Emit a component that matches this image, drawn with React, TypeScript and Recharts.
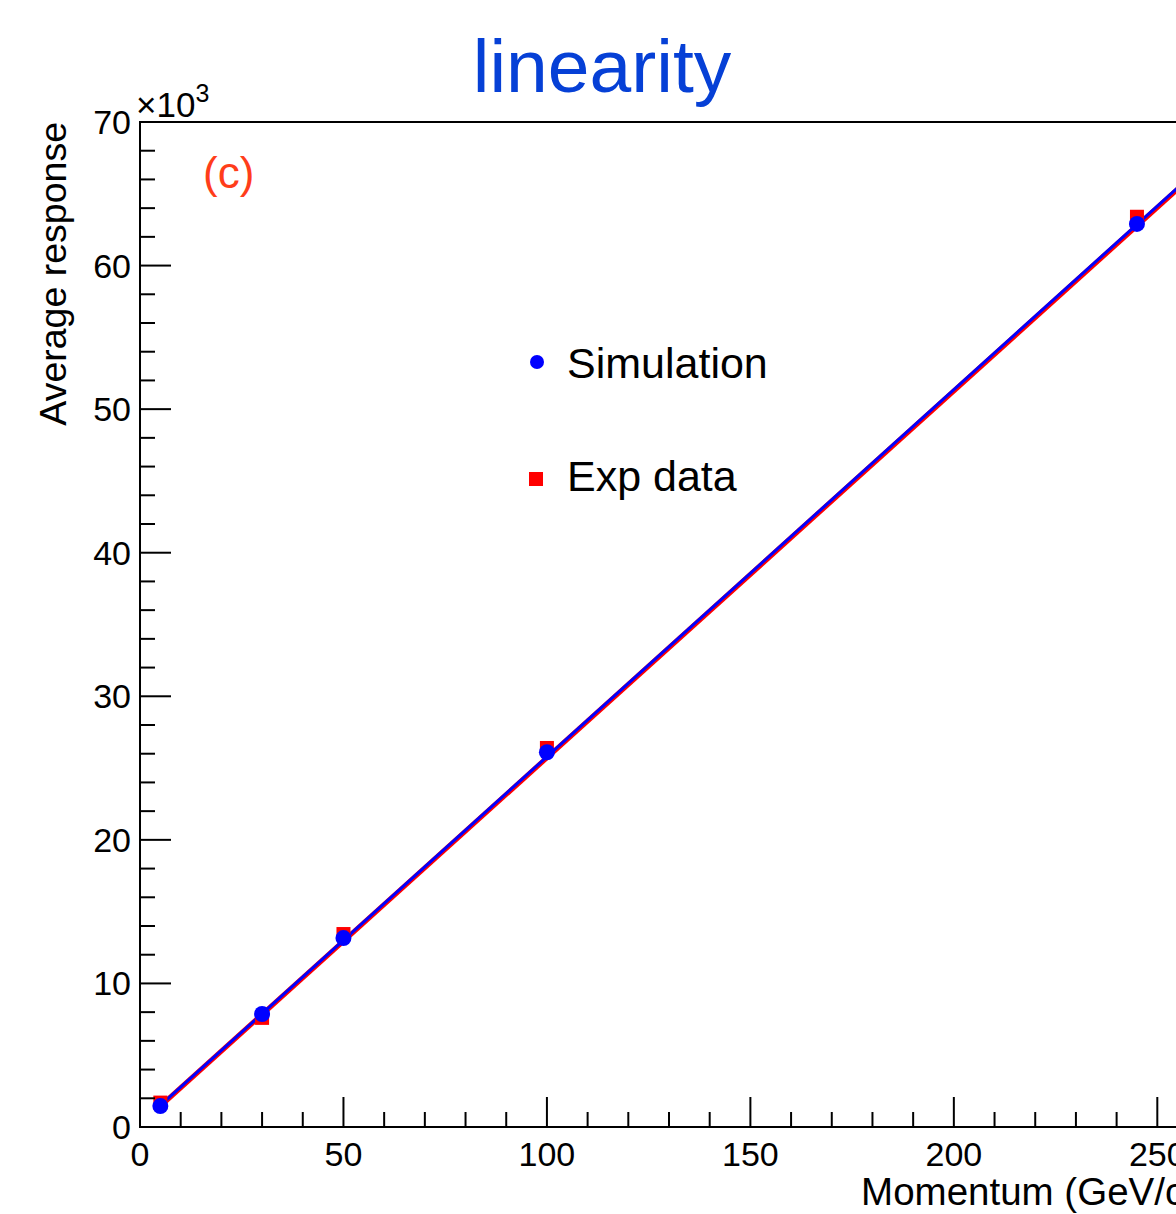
import React from "react";
import {
  ComposedChart,
  XAxis,
  YAxis,
  Line,
  Scatter,
  ReferenceArea,
  Customized,
} from "recharts";

// momentum (GeV/c) and average response (x10^3)
const momentum = [5, 30, 50, 100, 245];
const simResponse = [1.46, 7.87, 13.16, 26.1, 62.9];
const expResponse = [1.7, 7.6, 13.44, 26.4, 63.4];

// fit line end points
const fitMomentum = [5, 260];
const simFit = [1.5, 66.7];
const expFit = [1.45, 66.6];

const xTicks = [0, 10, 20, 30, 40, 50, 60, 70, 80, 90, 100, 110, 120, 130, 140, 150, 160, 170, 180, 190, 200, 210, 220, 230, 240, 250, 260];
const yTicks = [0, 2, 4, 6, 8, 10, 12, 14, 16, 18, 20, 22, 24, 26, 28, 30, 32, 34, 36, 38, 40, 42, 44, 46, 48, 50, 52, 54, 56, 58, 60, 62, 64, 66, 68, 70];

const W = 1240;
const H = 1214;
const LEFT = 140;
const TOP = 122;
const BOTTOM = 1127;
const FONT = "'Liberation Sans', Arial, Helvetica, sans-serif";
const BLUE = "#0000ff";
const RED = "#ff0000";

const simPoints = momentum.map((x, i) => ({ x, y: simResponse[i] }));
const expPoints = momentum.map((x, i) => ({ x, y: expResponse[i] }));
const simLine = fitMomentum.map((x, i) => ({ x, y: simFit[i] }));
const expLine = fitMomentum.map((x, i) => ({ x, y: expFit[i] }));

function XTick(props: any) {
  const v = props.payload.value;
  const x = props.x;
  const major = v % 50 === 0;
  return (
    <g>
      <line x1={x} x2={x} y1={BOTTOM} y2={BOTTOM - (major ? 30 : 15)} stroke="#000" strokeWidth={2} />
      {major && (
        <text x={x} y={1166} textAnchor="middle" fontSize={34} fontFamily={FONT} fill="#000">
          {v}
        </text>
      )}
    </g>
  );
}

function YTick(props: any) {
  const v = props.payload.value;
  const y = props.y;
  const major = v % 10 === 0;
  return (
    <g>
      <line x1={LEFT} x2={LEFT + (major ? 31 : 15)} y1={y} y2={y} stroke="#000" strokeWidth={2} />
      {major && (
        <text x={131} y={y + 12} textAnchor="end" fontSize={34} fontFamily={FONT} fill="#000">
          {v}
        </text>
      )}
    </g>
  );
}

const Dot = (props: any) => <circle cx={props.cx} cy={props.cy} r={8} fill={BLUE} />;
const Square = (props: any) => <rect x={props.cx - 7} y={props.cy - 7} width={14} height={14} fill={RED} />;

function Labels() {
  return (
    <g fontFamily={FONT}>
      <text x={602} y={92} textAnchor="middle" fontSize={75} fill="#0640d6">linearity</text>
      <text x={136} y={117} fontSize={35} fill="#000">
        ×10
        <tspan dy={-15} fontSize={25}>3</tspan>
      </text>
      <text x={203} y={188} fontSize={44} fill="#ff3d1a">(c)</text>
      <text x={66} y={TOP} transform={`rotate(-90 66 ${TOP})`} textAnchor="end" fontSize={37.5} fill="#000">
        Average response
      </text>
      <text x={1197} y={1205} textAnchor="end" fontSize={38.5} fill="#000">Momentum (GeV/c)</text>
      <circle cx={537} cy={362} r={7} fill={BLUE} />
      <text x={567} y={378} fontSize={43} fill="#000">Simulation</text>
      <rect x={529} y={472} width={14} height={14} fill={RED} />
      <text x={567} y={491} fontSize={43} fill="#000">Exp data</text>
    </g>
  );
}

export default function App() {
  return (
    <div style={{ position: "fixed", left: 0, top: 0, width: 1176, height: 1214, overflow: "hidden", background: "#fff" }}>
      <ComposedChart width={W} height={H} margin={{ top: TOP, right: 42, bottom: 27, left: 80 }}>
        <XAxis
          type="number"
          dataKey="x"
          domain={[0, 260]}
          ticks={xTicks}
          interval={0}
          tick={<XTick />}
          tickLine={false}
          axisLine={{ stroke: "#000", strokeWidth: 2 }}
          height={60}
          allowDataOverflow
        />
        <YAxis
          type="number"
          dataKey="y"
          domain={[0, 70]}
          ticks={yTicks}
          interval={0}
          tick={<YTick />}
          tickLine={false}
          axisLine={{ stroke: "#000", strokeWidth: 2 }}
          width={60}
          allowDataOverflow
        />
        <ReferenceArea x1={0} x2={260} y1={0} y2={70} fill="none" stroke="#000" strokeWidth={2} ifOverflow="extendDomain" />
        <Line data={expLine} dataKey="y" stroke={RED} strokeWidth={5} dot={false} isAnimationActive={false} />
        <Line data={simLine} dataKey="y" stroke={BLUE} strokeWidth={3} dot={false} isAnimationActive={false} />
        <Scatter data={expPoints} dataKey="y" shape={<Square />} isAnimationActive={false} />
        <Scatter data={simPoints} dataKey="y" shape={<Dot />} isAnimationActive={false} />
        <Customized component={Labels} />
      </ComposedChart>
    </div>
  );
}
